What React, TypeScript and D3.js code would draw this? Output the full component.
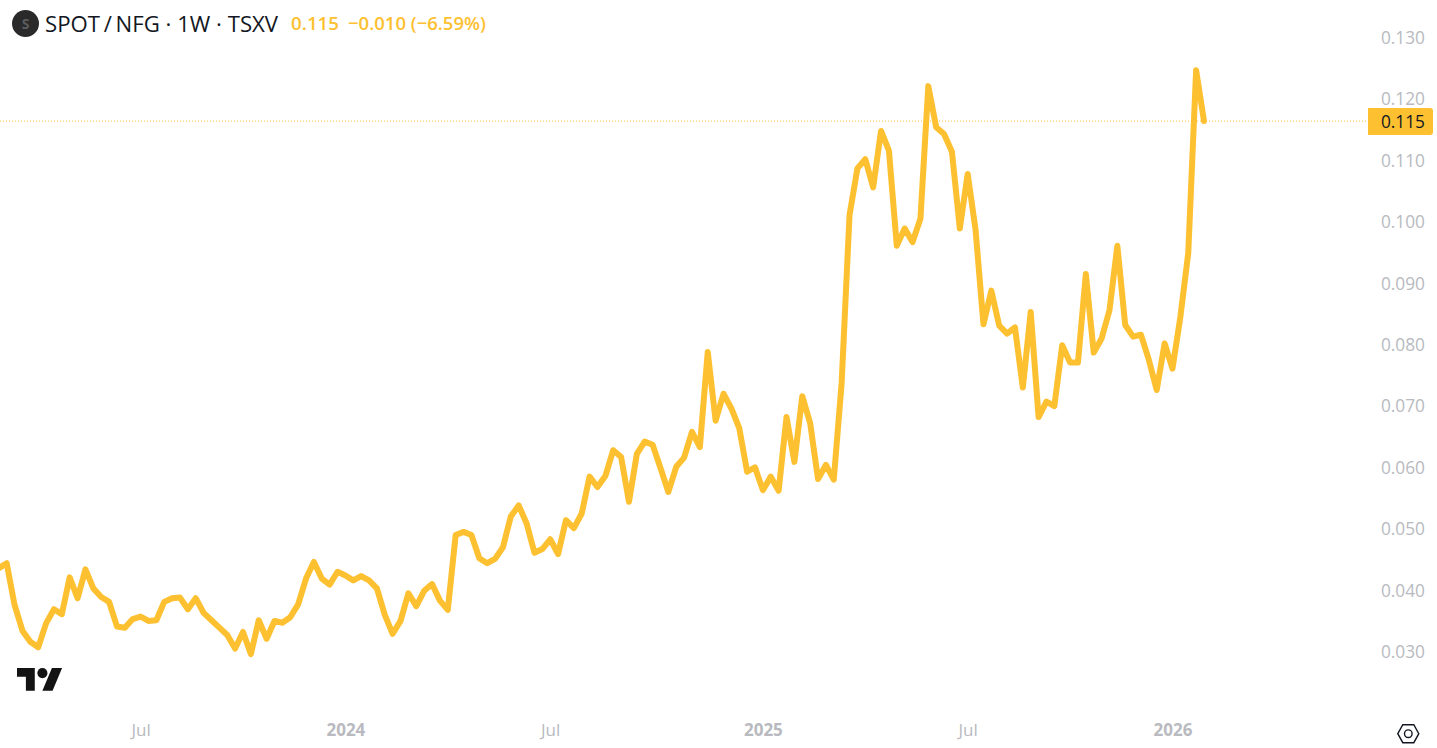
import { useEffect, useRef } from "react";
import * as d3 from "d3";

const WIDTH = 1437;
const HEIGHT = 748;

// weekly SPOT/NFG closes
const closes = [
  0.0435, 0.0443, 0.0375, 0.0333, 0.0315, 0.0306, 0.0345, 0.0368, 0.036, 0.042,
  0.0386, 0.0433, 0.0402, 0.0388, 0.038, 0.034, 0.0338, 0.0352, 0.0356, 0.0349,
  0.035, 0.038, 0.0386, 0.0387, 0.0368, 0.0386, 0.0362, 0.035, 0.0338, 0.0326,
  0.0304, 0.0331, 0.0295, 0.035, 0.032, 0.0349, 0.0346, 0.0355, 0.0376, 0.0418,
  0.0445, 0.0418, 0.0408, 0.0429, 0.0423, 0.0415, 0.0422, 0.0415, 0.0402,
  0.0359, 0.0328, 0.0349, 0.0394, 0.0373, 0.0398, 0.0409, 0.0382, 0.0367,
  0.0489, 0.0494, 0.0489, 0.0451, 0.0443, 0.045, 0.0469, 0.0519, 0.0537, 0.0508,
  0.046, 0.0466, 0.0482, 0.0458, 0.0513, 0.05, 0.0524, 0.0584, 0.0567, 0.0585,
  0.0627, 0.0616, 0.0543, 0.0621, 0.0641, 0.0636, 0.0598, 0.0559, 0.06, 0.0615,
  0.0657, 0.0632, 0.0787, 0.0675, 0.0719, 0.0695, 0.0663, 0.0592, 0.0599,
  0.0562, 0.0584, 0.0561, 0.0681, 0.0608, 0.0715, 0.0671, 0.058, 0.0603, 0.0579,
  0.0737, 0.101, 0.1086, 0.1101, 0.1055, 0.1147, 0.1115, 0.096, 0.0988, 0.0966,
  0.1004, 0.122, 0.1153, 0.1142, 0.1113, 0.0988, 0.1077, 0.0986, 0.0832, 0.0887,
  0.083, 0.0817, 0.0827, 0.0729, 0.0852, 0.0681, 0.0706, 0.0699, 0.0798, 0.077,
  0.077, 0.0914, 0.0786, 0.0809, 0.0855, 0.096, 0.0831, 0.0812, 0.0815, 0.0774,
  0.0725, 0.0801, 0.076, 0.0844, 0.0948, 0.1246, 0.1163,
];

// index into closes where each time label sits
const timeTickIndex = [18, 44, 70, 97, 123, 149];
const timeTickLabels = ["Jul", "2024", "Jul", "2025", "Jul", "2026"];

const priceTicks = [
  0.03, 0.04, 0.05, 0.06, 0.07, 0.08, 0.09, 0.1, 0.11, 0.12, 0.13,
];

const titleText = "SPOT\u2009/\u2009NFG \u00b7 1W \u00b7 TSXV";
const lastLabel = "0.115";
const changeLabel = "\u22120.010 (\u22126.59%)";

const LINE_COLOR = "#fdc030";
const AXIS_COLOR = "#b8bac0";
const FONT = "'Open Sans', 'Noto Sans', sans-serif";

export default function App() {
  const ref = useRef<SVGSVGElement | null>(null);

  useEffect(() => {
    if (!ref.current) return;
    const svg = d3.select(ref.current);
    svg.selectAll("*").remove();

    const x = d3.scaleLinear([0, closes.length - 1], [-1.2, 1204]);
    const y = d3.scaleLinear([0.03, 0.13], [651, 37]);
    const lastY = y(closes[closes.length - 1]);

    // last price dotted line
    svg
      .append("line")
      .attr("x1", 0)
      .attr("x2", 1368)
      .attr("y1", lastY)
      .attr("y2", lastY)
      .attr("stroke", LINE_COLOR)
      .attr("stroke-width", 1)
      .attr("stroke-dasharray", "1 2");

    const line = d3
      .line<number>()
      .x((d, i) => x(i))
      .y((d) => y(d));

    svg
      .append("path")
      .attr("d", line(closes))
      .attr("fill", "none")
      .attr("stroke", LINE_COLOR)
      .attr("stroke-width", 6)
      .attr("stroke-linejoin", "round")
      .attr("stroke-linecap", "round");

    // price axis
    const yAxis = svg
      .append("g")
      .attr("transform", "translate(1425,0)")
      .call(
        d3
          .axisRight(y)
          .tickValues(priceTicks)
          .tickSize(0)
          .tickPadding(0)
          .tickFormat(d3.format(".3f") as any)
      );
    yAxis.select(".domain").remove();
    yAxis
      .selectAll("text")
      .attr("text-anchor", "end")
      .attr("dy", "0.38em")
      .attr("fill", AXIS_COLOR)
      .style("font-family", FONT)
      .style("font-size", "17.3px")
      .style("font-weight", 500);

    // last price tag
    svg
      .append("path")
      .attr("d", "M1368 108H1430a3 3 0 0 1 3 3V132a3 3 0 0 1 -3 3H1368Z")
      .attr("fill", LINE_COLOR);
    svg
      .append("text")
      .attr("x", 1425)
      .attr("y", lastY)
      .attr("dy", "0.38em")
      .attr("text-anchor", "end")
      .attr("fill", "#131722")
      .style("font-family", FONT)
      .style("font-size", "17.3px")
      .style("font-weight", 500)
      .text(lastLabel);

    // time axis
    const xAxis = svg
      .append("g")
      .attr("transform", "translate(0,724)")
      .call(
        d3
          .axisBottom(x)
          .tickValues(timeTickIndex)
          .tickSize(0)
          .tickPadding(0)
          .tickFormat((d, i) => timeTickLabels[i])
      );
    xAxis.select(".domain").remove();
    xAxis
      .selectAll("text")
      .attr("fill", AXIS_COLOR)
      .style("font-family", FONT)
      .style("font-size", "17px")
      .style("font-weight", (d, i) =>
        timeTickLabels[i] === "Jul" ? 500 : 700
      );

    // header
    svg
      .append("circle")
      .attr("cx", 25.5)
      .attr("cy", 23.5)
      .attr("r", 13.5)
      .attr("fill", "#2a2a2b");
    svg
      .append("text")
      .attr("x", 25.5)
      .attr("y", 23.5)
      .attr("dy", "0.36em")
      .attr("text-anchor", "middle")
      .attr("fill", "#5c5c5e")
      .style("font-family", FONT)
      .style("font-size", "14px")
      .style("font-weight", 700)
      .text("S");
    svg
      .append("text")
      .attr("x", 45)
      .attr("y", 32)
      .attr("fill", "#131722")
      .style("font-family", FONT)
      .style("font-size", "22.2px")
      .text(titleText);
    svg
      .append("text")
      .attr("x", 291)
      .attr("y", 30)
      .attr("fill", LINE_COLOR)
      .style("font-family", FONT)
      .style("font-size", "18.8px")
      .style("font-weight", 600)
      .text(lastLabel);
    svg
      .append("text")
      .attr("x", 348)
      .attr("y", 30)
      .attr("fill", LINE_COLOR)
      .style("font-family", FONT)
      .style("font-size", "18.5px")
      .style("font-weight", 600)
      .text(changeLabel);

    // tradingview mark
    const logo = svg
      .append("g")
      .attr("transform", "translate(17,662.9) scale(1.27)")
      .attr("fill", "#131313");
    logo.append("path").attr("d", "M14 22H7V11H0V4h14v18zM28 22h-8l7.5-18h8L28 22z");
    logo.append("circle").attr("cx", 20).attr("cy", 8).attr("r", 4);

    // settings hexagon
    const gear = svg
      .append("g")
      .attr("transform", "translate(1408.3,733.7)")
      .attr("fill", "none")
      .attr("stroke", "#131722")
      .attr("stroke-width", 1.4);
    gear.append("path").attr("d", "M-10.5 0L-5.5-9H5.5L10.5 0L5.5 9H-5.5Z");
    gear.append("circle").attr("r", 3.8);
  }, []);

  return (
    <svg
      ref={ref}
      width={WIDTH}
      height={HEIGHT}
      style={{ position: "absolute", top: 0, left: 0, background: "#fff" }}
    />
  );
}
